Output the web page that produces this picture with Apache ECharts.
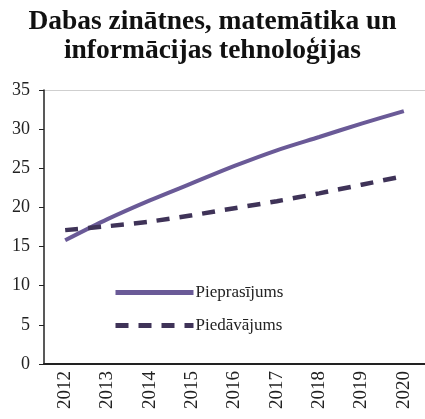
<!DOCTYPE html>
<html>
<head>
<meta charset="utf-8">
<script src="https://cdn.jsdelivr.net/npm/echarts@6/dist/echarts.min.js"></script>
<style>html,body{margin:0;padding:0;background:#fff;}#c{width:425px;height:419px;}</style>
</head>
<body>
<div id="c"></div>
<script>
const titleText = 'Dabas zinātnes, matemātika un\ninformācijas tehnoloģijas';
const years = ['2012','2013','2014','2015','2016','2017','2018','2019','2020'];
const demand = [15.8, 18.5, 20.9, 23.1, 25.3, 27.3, 29.0, 30.7, 32.3];
const supply = [17.1, 17.6, 18.2, 19.0, 19.9, 20.8, 21.8, 22.9, 24.0];
const seriesNames = ['Pieprasījums', 'Piedāvājums'];

const chart = echarts.init(document.getElementById('c'));
chart.setOption({
  animation: false,
  backgroundColor: '#fff',
  title: {
    text: titleText,
    left: 'center',
    top: 2,
    textStyle: {fontFamily: 'Liberation Serif', fontWeight: 'bold', fontSize: 27.5, lineHeight: 29, color: '#111'}
  },
  legend: {
    orient: 'vertical',
    left: 108,
    top: 279,
    itemWidth: 78,
    itemHeight: 14,
    itemGap: 16,
    data: seriesNames,
    itemStyle: {color: 'rgba(0,0,0,0)', borderWidth: 0},
    lineStyle: {width: 5},
    textStyle: {fontFamily: 'Liberation Serif', fontSize: 17, color: '#222', padding: [0,0,0,-3]}
  },
  grid: {left: 44, right: 0, top: 90, bottom: 55, containLabel: false},
  xAxis: {
    type: 'category',
    data: years,
    boundaryGap: true,
    axisLine: {lineStyle: {color: '#222', width: 2}},
    axisTick: {show: false},
    axisLabel: {rotate: 90, fontFamily: 'Liberation Serif', fontSize: 19, color: '#222', margin: 7}
  },
  yAxis: {
    type: 'value',
    min: 0, max: 35, interval: 5,
    axisLine: {show: true, lineStyle: {color: '#222', width: 1.5}},
    axisTick: {show: true, length: 5, lineStyle: {color: '#222'}},
    axisLabel: {fontFamily: 'Liberation Serif', fontSize: 18, color: '#222', margin: 14},
    splitLine: {show: true, lineStyle: {color: ['transparent','transparent','transparent','transparent','transparent','transparent','transparent','#cfcfcf'], width: 1}}
  },
  series: [
    {
      name: seriesNames[0], type: 'line', data: demand, smooth: 0.3,
      showSymbol: false, symbol: 'none',
      lineStyle: {color: '#6a5a97', width: 4},
      itemStyle: {color: '#6a5a97'}
    },
    {
      name: seriesNames[1], type: 'line', data: supply, smooth: 0.3,
      showSymbol: false, symbol: 'none',
      lineStyle: {color: '#3f3358', width: 4.5, type: [13, 10]},
      itemStyle: {color: '#3f3358'}
    }
  ]
});
</script>
</body>
</html>
